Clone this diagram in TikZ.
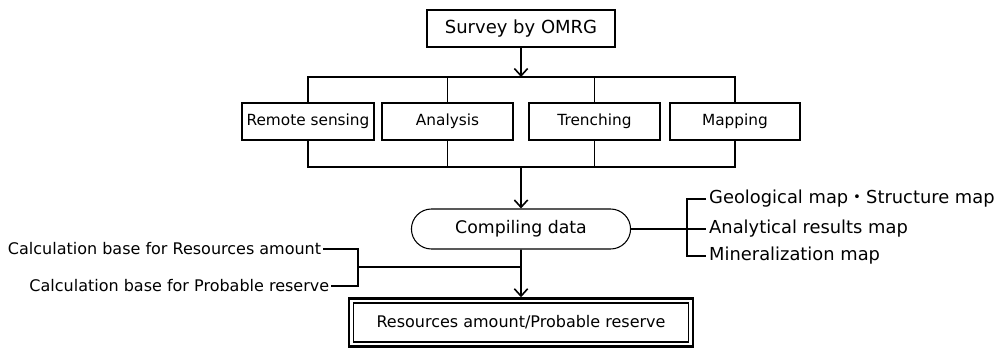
\documentclass[tikz,border=0pt]{standalone}
\usepackage{fontspec}
\setmainfont{DejaVu Sans}
\newfontfamily\cjk{Noto Sans CJK JP}
\usetikzlibrary{shapes.misc,arrows.meta,fit}
\tikzstyle{box}=[rectangle, draw, line width=0.8pt, minimum height=27.75pt, inner sep=1pt, font=\fontsize{11.5}{13}\selectfont]
\tikzstyle{topbox}=[box, minimum width=141pt, font=\fontsize{13.5}{16}\selectfont]
\tikzstyle{oval}=[rounded rectangle, draw, line width=0.8pt, minimum width=171pt, minimum height=30pt, font=\fontsize{13}{15}\selectfont]
\tikzstyle{note}=[inner sep=1pt, font=\fontsize{12}{14}\selectfont]
\tikzstyle{rnote}=[inner sep=2pt, anchor=west, font=\fontsize{13.4}{15}\selectfont]
\tikzstyle{arr}=[line width=1.2pt, -{Straight Barb[length=5.5pt,width=10pt]}]

\begin{document}
\begin{tikzpicture}[x=0.75pt, y=-0.75pt, line width=0.8pt]
					\useasboundingbox (0,0) rectangle (998,347);
					\node[topbox] (survey) at (521,28.5) {Survey by OMRG};
					\foreach \x/\w/\name/\txt in {308/99/remote/Remote sensing, 447.5/98.25/analysis/Analysis, 594.5/98.25/trench/Trenching, 735/97.5/mapping/Mapping}{
						\node[box, minimum width=\w pt] (\name) at (\x,121.5) {\txt};
					}
					\coordinate (top) at (521,77);
					\coordinate (bot) at (521,167);
					\draw[arr] (survey) -- (top);
					\draw (remote.north) |- (top) -| (mapping.north);
					\draw (remote.south) |- (bot) -| (mapping.south);
					\foreach \name in {analysis, trench}{
						\draw (\name.north) -- (\name.north |- top);
						\draw (\name.south) -- (\name.south |- bot);
					}
					\node[oval] (compile) at (521,229) {Compiling data};
					\draw[arr] (bot) -- (compile);
					\node[box, minimum width=251.25pt, minimum height=29.25pt, font=\fontsize{12}{14}\selectfont] (result) at (521,322.5) {Resources amount/Probable reserve};
					\node[draw, line width=1.8pt, inner sep=3pt, fit=(result)] (resultframe) {};
					\draw[arr] (compile) -- (compile |- resultframe.north);
					\coordinate (rj) at (687,229);
					\node[rnote] (geo) at (706,199) {Geological map{\cjk ・}Structure map};
					\node[rnote] (anres) at (706,229) {Analytical results map};
					\node[rnote] (mineral) at (706,256) {Mineralization map};
					\draw (compile.east) -- (rj) -- (anres.west);
					\draw (geo.west) -| (rj) |- (mineral.west);
					\coordinate (lj) at (358,267);
					\node[note, anchor=east] (calcres) at (323,249) {Calculation base for Resources amount};
					\node[note, anchor=east] (calcprob) at (331,286) {Calculation base for Probable reserve};
					\draw (calcres.east) -| (lj) |- (calcprob.east);
					\draw (lj) -- (lj -| compile);
				\end{tikzpicture}
\end{document}
